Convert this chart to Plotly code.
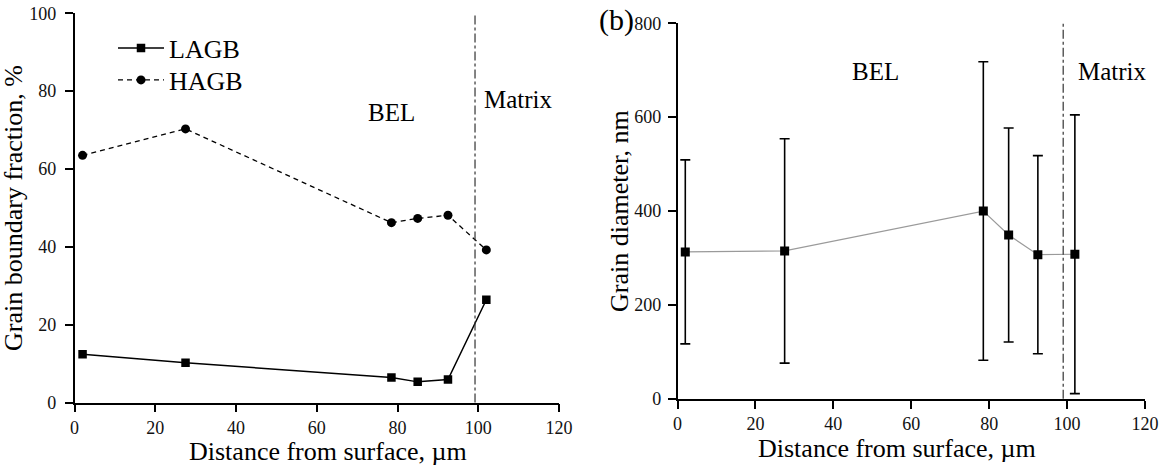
import plotly.graph_objects as go

# ---- data ----
depth = [2.0, 27.5, 78.5, 85.0, 92.5, 102.0]
lagb = [12.4, 10.2, 6.4, 5.3, 5.9, 26.4]
hagb = [63.5, 70.3, 46.2, 47.3, 48.1, 39.2]
grain_d = [313, 315, 400, 349, 307, 308]
grain_err = [196, 239, 318, 228, 211, 297]
boundary_x = 99.2
boundary_x_b = 99.0

FONT = "Liberation Serif"
W, H = 1160, 465

fig = go.Figure()

fig.add_trace(go.Scatter(
    x=depth, y=lagb, name="LAGB", mode="lines+markers", legend="legend",
    line=dict(color="black", width=1.5),
    marker=dict(symbol="square", size=8.5, color="black"),
    xaxis="x", yaxis="y"))
fig.add_trace(go.Scatter(
    x=depth, y=hagb, name="HAGB", mode="lines+markers", legend="legend2",
    line=dict(color="black", width=1.3, dash="5px,4px"),
    marker=dict(symbol="circle", size=9, color="black"),
    xaxis="x", yaxis="y"))

fig.add_trace(go.Scatter(
    x=depth, y=grain_d, name="d", mode="lines+markers", showlegend=False,
    line=dict(color="#9a9a9a", width=1.2),
    marker=dict(symbol="square", size=9, color="black"),
    error_y=dict(type="data", array=grain_err, visible=True,
                 color="black", thickness=1.6, width=5),
    xaxis="x2", yaxis="y2"))

axis_common = dict(
    showline=True, linecolor="black", linewidth=1.5,
    ticks="outside", ticklen=8, tickwidth=1.5, tickcolor="black",
    showgrid=False, zeroline=False, mirror=False, automargin=False,
    tickfont=dict(family=FONT, size=18, color="#111"),
)

legend_common = dict(xanchor="left", yanchor="middle", bgcolor="rgba(0,0,0,0)",
                     font=dict(family=FONT, size=26), itemwidth=46,
                     borderwidth=0)

fig.update_layout(
    template="none",
    width=W, height=H,
    margin=dict(l=0, r=0, t=0, b=0, pad=0),
    paper_bgcolor="white", plot_bgcolor="white",
    font=dict(family=FONT, color="black"),
    xaxis=dict(domain=[74.5 / W, 559 / W], range=[0, 120], dtick=20,
               anchor="y", **axis_common),
    yaxis=dict(domain=[(H - 402.5) / H, (H - 13.3) / H], range=[0, 100],
               dtick=20, anchor="x", ticklabelstandoff=5, **axis_common),
    xaxis2=dict(domain=[677.5 / W, 1145 / W], range=[0, 120], dtick=20,
                anchor="y2", **axis_common),
    yaxis2=dict(domain=[(H - 398.8) / H, (H - 23.3) / H], range=[0, 800],
                dtick=200, anchor="x2", ticklabelstandoff=3, **axis_common),
    legend=dict(x=113 / W, y=(H - 48) / H, **legend_common),
    legend2=dict(x=113 / W, y=(H - 80) / H, **legend_common),
    showlegend=True,
)

# vertical boundaries
fig.add_shape(type="line", xref="x", yref="y domain", x0=boundary_x, x1=boundary_x,
              y0=0, y1=1, line=dict(color="#333", width=1.2, dash="dashdot"))
fig.add_shape(type="line", xref="x2", yref="y2 domain", x0=boundary_x_b, x1=boundary_x_b,
              y0=0, y1=1, line=dict(color="#333", width=1.2, dash="dashdot"))

ann = [
    dict(text="BEL", x=78.5, y=74.6, xref="x", yref="y", font=dict(size=25)),
    dict(text="Matrix", x=109.9, y=77.9, xref="x", yref="y", font=dict(size=25)),
    dict(text="BEL", x=50.8, y=697, xref="x2", yref="y2", font=dict(size=25)),
    dict(text="Matrix", x=111.6, y=697, xref="x2", yref="y2", font=dict(size=25)),
    dict(text="(b)", x=616 / W, y=(H - 20) / H, xref="paper", yref="paper", font=dict(size=30)),
    dict(text="Grain boundary fraction, %", x=14 / W, y=(H - 208) / H, xref="paper",
         yref="paper", textangle=-90, font=dict(size=26)),
    dict(text="Grain diameter, nm", x=619 / W, y=(H - 211) / H, xref="paper",
         yref="paper", textangle=-90, font=dict(size=26)),
    dict(text="Distance from surface, \u00b5m", x=327.5 / W, y=(H - 451) / H, xref="paper",
         yref="paper", font=dict(size=26)),
    dict(text="Distance from surface, \u00b5m", x=897.5 / W, y=(H - 448) / H, xref="paper",
         yref="paper", font=dict(size=26)),
]
for a in ann:
    a.update(showarrow=False, xanchor="center", yanchor="middle")
    a["font"] = dict(family=FONT, color="black", **a["font"])
fig.update_layout(annotations=ann)

fig.write_html(
    "out.html",
    config={"displayModeBar": False},
    post_script="document.body.style.margin='0px';document.body.style.overflow='hidden';",
)
